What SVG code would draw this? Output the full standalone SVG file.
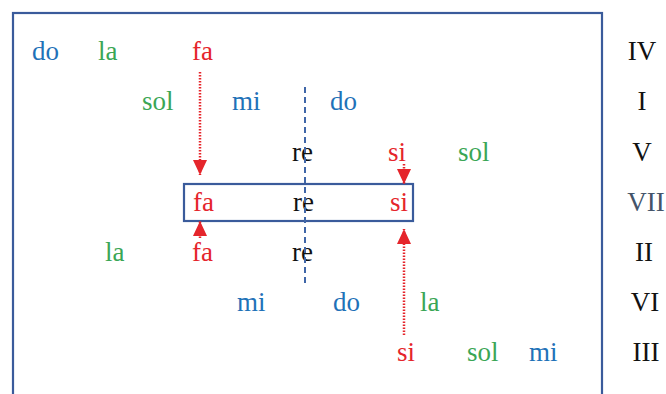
<svg xmlns="http://www.w3.org/2000/svg" width="666" height="394" viewBox="0 0 666 394">
<defs>
<style>
text{font-family:"Liberation Serif","Times New Roman",serif;font-size:27px}
.b{fill:#1f72b8}.g{fill:#3aa655}.r{fill:#e5252b}.k{fill:#111}
.rn{fill:#111;text-anchor:middle}
.frame{fill:none;stroke:#3a5b9b;stroke-width:2.2}
.dot{stroke:#e5252b;stroke-width:2.5;stroke-dasharray:1.5 1.5;fill:none}
</style>
<marker id="ah" viewBox="0 0 15 14" refX="15" refY="7" markerWidth="15" markerHeight="14" markerUnits="userSpaceOnUse" orient="auto">
<path d="M0,0 L15,7 L0,14 Z" fill="#e5252b"/>
</marker>
</defs>
<rect class="frame" x="13" y="13" width="589" height="400"/>
<g id="rowIV">
<text class="b" x="32" y="60">do</text>
<text class="g" x="98" y="60">la</text>
<text class="r" x="192" y="60">fa</text>
<text class="rn" x="642" y="60">IV</text>
</g>
<g id="rowI">
<text class="g" x="142" y="110">sol</text>
<text class="b" x="232" y="110">mi</text>
<text class="b" x="330" y="110">do</text>
<text class="rn" x="642" y="110">I</text>
</g>
<g id="rowV">
<text class="k" x="292" y="161">re</text>
<text class="r" x="388" y="161">si</text>
<text class="g" x="458" y="161">sol</text>
<text class="rn" x="642" y="161">V</text>
</g>
<g id="rowVII">
<rect class="frame" x="184" y="184" width="229" height="37"/>
<text class="r" x="193" y="211">fa</text>
<text class="k" x="293" y="211">re</text>
<text class="r" x="390" y="211">si</text>
<text class="rn" x="646" y="211" style="fill:#44546a">VII</text>
</g>
<g id="rowII">
<text class="g" x="105" y="261">la</text>
<text class="r" x="192" y="261">fa</text>
<text class="k" x="292" y="261">re</text>
<text class="rn" x="644" y="261">II</text>
</g>
<g id="rowVI">
<text class="b" x="237" y="311">mi</text>
<text class="b" x="333" y="311">do</text>
<text class="g" x="420" y="311">la</text>
<text class="rn" x="645" y="311">VI</text>
</g>
<g id="rowIII">
<text class="r" x="397" y="361">si</text>
<text class="g" x="467" y="361">sol</text>
<text class="b" x="529" y="361">mi</text>
<text class="rn" x="646" y="361">III</text>
</g>
<g id="connectors">
<line x1="305" y1="87" x2="305" y2="284" stroke="#3f66a8" stroke-width="2" stroke-dasharray="6 4"/>
<line class="dot" x1="200" y1="72" x2="200" y2="175" marker-end="url(#ah)"/>
<line class="dot" x1="404" y1="164" x2="404" y2="184" marker-end="url(#ah)"/>
<line class="dot" x1="200" y1="238" x2="200" y2="221" marker-end="url(#ah)"/>
<line class="dot" x1="404" y1="335" x2="404" y2="229" marker-end="url(#ah)"/>
</g>
</svg>
